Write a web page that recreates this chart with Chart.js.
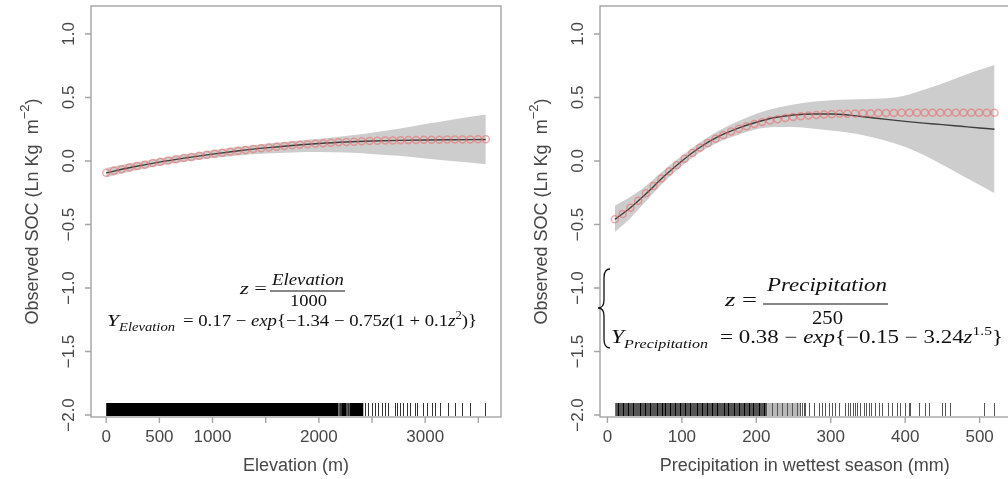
<!DOCTYPE html>
<html>
<head>
<meta charset="utf-8">
<script src="https://cdn.jsdelivr.net/npm/chart.js@4.4.0/dist/chart.umd.min.js"></script>
<style>
  html, body { margin: 0; padding: 0; background: #fff; width: 1008px; height: 479px; overflow: hidden; }
  canvas { position: absolute; top: 0; }
  #elev { left: 0; }
  #prec { left: 520px; }
</style>
</head>
<body>
<canvas id="elev" width="520" height="479"></canvas>
<canvas id="prec" width="540" height="479"></canvas>
<script>
// ---- axis ticks ----
const yTicks = [-2.0, -1.5, -1.0, -0.5, 0.0, 0.5, 1.0];
const elevTicks = [0, 500, 1000, 1500, 2000, 2500, 3000, 3500];
const elevTickLabels = ['0', '500', '1000', '', '2000', '', '3000', ''];
const precTicks = [0, 100, 200, 300, 400, 500];
const precTickLabels = ['0', '100', '200', '300', '400', '500'];

// ---- elevation panel ----
// fitted model evaluated at sample elevations (open circles)
const elevPts = [0, 73, 146, 219, 291, 364, 437, 510, 583, 656, 729, 801, 874, 947, 1020, 1093, 1166, 1239, 1311, 1384,
  1457, 1530, 1603, 1676, 1749, 1821, 1894, 1967, 2040, 2113, 2186, 2259, 2331, 2404, 2477, 2550, 2623, 2696, 2769, 2841,
  2914, 2987, 3060, 3133, 3206, 3279, 3351, 3424, 3497, 3570];
const elevModel = [-0.092, -0.078, -0.065, -0.052, -0.040, -0.029, -0.017, -0.007, 0.003, 0.013, 0.023, 0.032, 0.041, 0.049,
  0.057, 0.065, 0.073, 0.080, 0.087, 0.094, 0.100, 0.106, 0.112, 0.118, 0.123, 0.128, 0.132, 0.136, 0.140, 0.144, 0.147,
  0.150, 0.152, 0.155, 0.157, 0.159, 0.161, 0.162, 0.163, 0.164, 0.165, 0.166, 0.167, 0.167, 0.168, 0.168, 0.169, 0.169,
  0.170, 0.170];
// smooth fit with confidence band
const elevFitX = [0, 250, 500, 750, 1000, 1250, 1500, 1750, 2000, 2250, 2500, 2750, 3000, 3250, 3570];
const elevFit = [-0.094, -0.048, -0.009, 0.024, 0.054, 0.080, 0.103, 0.122, 0.137, 0.149, 0.157, 0.162, 0.165, 0.167, 0.169];
const elevUpper = [-0.055, -0.015, 0.020, 0.053, 0.085, 0.112, 0.135, 0.156, 0.175, 0.196, 0.222, 0.253, 0.290, 0.325, 0.365];
const elevLower = [-0.130, -0.080, -0.038, -0.005, 0.023, 0.043, 0.058, 0.067, 0.070, 0.066, 0.055, 0.040, 0.020, 0.000, -0.025];
// rug of observed elevations: solid runs, thinner runs and single ticks
const elevRugRuns = [[0, 2184], [2215, 2262], [2293, 2418]];
const elevRugHaze = [[2184, 2215], [2262, 2293]];
const elevRug = [2196, 2206, 2277, 2434, 2466, 2497, 2528, 2560, 2591, 2622, 2653, 2716, 2732, 2763, 2794, 2826, 2857, 2904,
  2920, 2982, 3014, 3061, 3092, 3139, 3217, 3280, 3343, 3421, 3562];

// ---- precipitation panel ----
const precPts = [10, 20.4, 30.8, 41.2, 51.6, 62, 72.4, 82.9, 93.3, 103.7, 114.1, 124.5, 134.9, 145.3, 155.7, 166.1, 176.5,
  186.9, 197.3, 207.8, 218.2, 228.6, 239, 249.4, 259.8, 270.2, 280.6, 291, 301.4, 311.8, 322.2, 332.7, 343.1, 353.5, 363.9,
  374.3, 384.7, 395.1, 405.5, 415.9, 426.3, 436.7, 447.1, 457.6, 468, 478.4, 488.8, 499.2, 509.6, 520];
const precModel = [-0.459, -0.418, -0.368, -0.313, -0.255, -0.197, -0.139, -0.084, -0.031, 0.018, 0.063, 0.104, 0.142, 0.175,
  0.205, 0.231, 0.254, 0.274, 0.291, 0.306, 0.319, 0.329, 0.338, 0.346, 0.352, 0.357, 0.362, 0.365, 0.368, 0.371, 0.372,
  0.374, 0.375, 0.376, 0.377, 0.378, 0.378, 0.379, 0.379, 0.379, 0.379, 0.380, 0.380, 0.380, 0.380, 0.380, 0.380, 0.380,
  0.380, 0.380];
const precFitX = [10, 30, 50, 75, 100, 125, 150, 175, 200, 225, 250, 275, 300, 325, 350, 375, 400, 425, 450, 475, 500, 520];
const precFit = [-0.460, -0.372, -0.268, -0.127, 0.000, 0.110, 0.195, 0.257, 0.305, 0.342, 0.362, 0.370, 0.370, 0.361, 0.344,
  0.327, 0.312, 0.298, 0.286, 0.273, 0.260, 0.250];
const precUpper = [-0.352, -0.285, -0.205, -0.078, 0.040, 0.150, 0.240, 0.310, 0.372, 0.415, 0.445, 0.466, 0.478, 0.484, 0.488,
  0.493, 0.515, 0.560, 0.610, 0.665, 0.718, 0.756];
const precLower = [-0.560, -0.455, -0.330, -0.172, -0.040, 0.070, 0.150, 0.205, 0.250, 0.268, 0.267, 0.256, 0.240, 0.222, 0.195,
  0.158, 0.110, 0.047, -0.030, -0.110, -0.190, -0.254];
const precRugRuns = [[10.4, 214.6]];
const precRugHaze = [[214.6, 259]];
const precRugDense = [14.8, 21.5, 28.2, 35, 44, 50.7, 57.4, 66.4, 73.1, 77.6, 84.3, 91, 97.7, 104.4, 111.2, 120.2, 126.9, 133.6,
  140.3, 147, 156, 162.6, 169.4, 176.1, 182.8, 189.5, 196.2, 203, 209.7];
const precRug = [221, 227.7, 234.4, 241.1, 247.8, 254.6, 259, 261.3, 264.4, 265.7, 270.2, 276.9, 283.6, 288.1, 292.6, 297, 301.6,
  306, 310.5, 319.5, 322.6, 326.2, 329.8, 332.9, 335.2, 339.7, 344.1, 347.3, 350.8, 354, 359.8, 364.3, 368.8, 376.3, 382.3,
  389, 393.4, 400.1, 404.6, 406.9, 418, 427, 431.5, 449.5, 453.9, 460.6, 506.3, 518.8];

const pairs = (xs, ys) => xs.map((x, i) => ({ x: x, y: ys[i] }));
const MINUS = '\u2212';
const fmt = v => v.toFixed(1).replace('-', MINUS);

const SANS = '"Liberation Sans", Arial, sans-serif';
const SERIF = '"Liberation Serif", "Times New Roman", serif';
const AXIS_GREY = '#a4a4a4';
const TEXT_GREY = '#474747';

// draw a run of mixed upright/italic/sub/superscript math text squeezed to [x0, x1]
function drawMath(ctx, parts, x0, x1, base, size) {
  const fontFor = p => (p.i ? 'italic ' : '') + ((p.sub || p.sup) ? size * 0.68 : size) + 'px ' + SERIF;
  let total = 0;
  const widths = parts.map(p => { ctx.font = fontFor(p); const w = ctx.measureText(p.t).width; total += w; return w; });
  const sx = (x1 - x0) / total;
  ctx.save();
  ctx.translate(x0, base);
  ctx.scale(sx, 1);
  ctx.fillStyle = '#111';
  ctx.textAlign = 'left';
  ctx.textBaseline = 'alphabetic';
  let x = 0;
  parts.forEach((p, k) => {
    ctx.font = fontFor(p);
    const dy = p.sub ? size * 0.28 : (p.sup ? -size * 0.42 : 0);
    ctx.fillText(p.t, x, dy);
    x += widths[k];
  });
  ctx.restore();
}

function fractionBar(ctx, x0, x1, y) {
  ctx.save();
  ctx.strokeStyle = '#111';
  ctx.lineWidth = 1.1;
  ctx.beginPath();
  ctx.moveTo(x0, y); ctx.lineTo(x1, y);
  ctx.stroke();
  ctx.restore();
}

// frame, axes, rug and labels for one panel
function panelDecor(opts) {
  return {
    id: 'panelDecor',
    afterDraw(chart) {
      const ctx = chart.ctx;
      const a = chart.chartArea;
      const xs = chart.scales.x, ys = chart.scales.y;
      ctx.save();

      // rug along the bottom of the plot region
      const rugTop = a.bottom - 14, rugH = 13;
      const runs = (list, color) => {
        ctx.fillStyle = color;
        list.forEach(r => {
          const p0 = xs.getPixelForValue(r[0]), p1 = xs.getPixelForValue(r[1]);
          ctx.fillRect(p0, rugTop, p1 - p0, rugH);
        });
      };
      runs(opts.rugRuns, opts.rugRunColor);
      if (opts.rugHaze) runs(opts.rugHaze, opts.rugHazeColor);
      const ticks = (vals, color, w) => {
        ctx.strokeStyle = color; ctx.lineWidth = w;
        ctx.beginPath();
        vals.forEach(v => {
          const p = Math.round(xs.getPixelForValue(v)) + 0.5;
          ctx.moveTo(p, rugTop); ctx.lineTo(p, rugTop + rugH);
        });
        ctx.stroke();
      };
      if (opts.rugDense) ticks(opts.rugDense, '#000', 1);
      ticks(opts.rug, opts.rugTickColor, 1);

      // frame
      ctx.strokeStyle = AXIS_GREY;
      ctx.lineWidth = 1.4;
      ctx.strokeRect(a.left, a.top, a.right - a.left, a.bottom - a.top);

      // y axis
      ctx.fillStyle = TEXT_GREY;
      ctx.font = '17px ' + SANS;
      ctx.textAlign = 'center';
      ctx.textBaseline = 'middle';
      ctx.beginPath();
      yTicks.forEach(v => {
        const y = ys.getPixelForValue(v);
        ctx.moveTo(a.left - 6, y); ctx.lineTo(a.left, y);
      });
      ctx.stroke();
      yTicks.forEach(v => {
        const y = ys.getPixelForValue(v);
        ctx.save();
        ctx.translate(a.left - 23, y);
        ctx.rotate(-Math.PI / 2);
        ctx.fillText(fmt(v), 0, 1);
        ctx.restore();
      });

      // y title with superscript exponent
      ctx.save();
      ctx.translate(a.left - 58, (a.top + a.bottom) / 2);
      ctx.rotate(-Math.PI / 2);
      const t1 = 'Observed SOC (Ln Kg  m', t2 = MINUS + '2', t3 = ')';
      ctx.font = '18px ' + SANS; const w1 = ctx.measureText(t1).width, w3 = ctx.measureText(t3).width;
      ctx.font = '13px ' + SANS; const w2 = ctx.measureText(t2).width;
      let sx = -(w1 + w2 + w3) / 2;
      ctx.textAlign = 'left';
      ctx.font = '18px ' + SANS; ctx.fillText(t1, sx, 0);
      ctx.font = '13px ' + SANS; ctx.fillText(t2, sx + w1, -8);
      ctx.font = '18px ' + SANS; ctx.fillText(t3, sx + w1 + w2, 0);
      ctx.restore();

      // x axis
      ctx.beginPath();
      opts.xTicks.forEach(v => {
        const x = xs.getPixelForValue(v);
        ctx.moveTo(x, a.bottom); ctx.lineTo(x, a.bottom + 6);
      });
      ctx.stroke();
      ctx.font = '17px ' + SANS;
      ctx.textAlign = 'center';
      opts.xTicks.forEach((v, k) => {
        if (opts.xLabels[k]) ctx.fillText(opts.xLabels[k], xs.getPixelForValue(v), a.bottom + 20);
      });
      ctx.font = '18px ' + SANS;
      ctx.fillText(opts.xTitle, (a.left + a.right) / 2, a.bottom + 49);

      ctx.restore();
      opts.formula(ctx, a);
    }
  };
}

function panelConfig(xMin, xMax, pad, band, fit, model, decor) {
  return {
    type: 'line',
    data: {
      datasets: [
        { data: band[0], fill: '+1', backgroundColor: '#cdcdcd', borderWidth: 0, pointRadius: 0,
          cubicInterpolationMode: 'monotone', order: 3 },
        { data: band[1], fill: false, borderWidth: 0, pointRadius: 0,
          cubicInterpolationMode: 'monotone', order: 3 },
        { data: fit, fill: false, borderColor: '#3e3e3e', borderWidth: 1.4, pointRadius: 0,
          cubicInterpolationMode: 'monotone', order: 2 },
        { data: model, showLine: false, pointRadius: 3.5, pointBorderWidth: 1.5,
          pointBorderColor: 'rgba(236, 100, 100, 0.55)', pointBackgroundColor: 'rgba(0,0,0,0)', order: 1 }
      ]
    },
    options: {
      responsive: false,
      animation: false,
      devicePixelRatio: 1,
      events: [],
      layout: { padding: pad },
      plugins: { legend: { display: false }, tooltip: { enabled: false } },
      scales: {
        x: { type: 'linear', min: xMin, max: xMax, display: false },
        y: { type: 'linear', min: -2.016, max: 1.22, display: false }
      }
    },
    plugins: [decor]
  };
}

// Elevation panel
new Chart(document.getElementById('elev'), panelConfig(
  -143, 3713, { left: 91, top: 6, right: 19, bottom: 62 },
  [pairs(elevFitX, elevUpper), pairs(elevFitX, elevLower)],
  pairs(elevFitX, elevFit), pairs(elevPts, elevModel),
  panelDecor({
    xTicks: elevTicks, xLabels: elevTickLabels, xTitle: 'Elevation (m)',
    rugRuns: elevRugRuns, rugRunColor: '#000', rugHaze: elevRugHaze, rugHazeColor: '#5a5a5a',
    rug: elevRug, rugTickColor: '#333',
    formula(ctx, a) {
      const L = a.left;
      drawMath(ctx, [{ t: 'z', i: 1 }, { t: ' =' }], L + 149, L + 176, 294, 17);
      drawMath(ctx, [{ t: 'Elevation', i: 1 }], L + 181, L + 253, 285, 17);
      fractionBar(ctx, L + 179, L + 254, 291);
      drawMath(ctx, [{ t: '1000' }], L + 199, L + 236, 306, 17);
      drawMath(ctx, [{ t: 'Y', i: 1 }, { t: 'Elevation', i: 1, sub: 1 }], L + 16, L + 84, 326, 17);
      drawMath(ctx, [{ t: '= 0.17 ' + MINUS + ' ' }, { t: 'exp', i: 1 }, { t: '{' + MINUS + '1.34 ' + MINUS + ' 0.75' },
        { t: 'z', i: 1 }, { t: '(1 + 0.1' }, { t: 'z', i: 1 }, { t: '2', sup: 1 }, { t: ')}' }],
        L + 92, L + 386, 326, 17);
    }
  })
));

// Precipitation panel
new Chart(document.getElementById('prec'), panelConfig(
  -10, 540, { left: 80, top: 6, right: 50.6, bottom: 62 },
  [pairs(precFitX, precUpper), pairs(precFitX, precLower)],
  pairs(precFitX, precFit), pairs(precPts, precModel),
  panelDecor({
    xTicks: precTicks, xLabels: precTickLabels, xTitle: 'Precipitation in wettest season (mm)',
    rugRuns: precRugRuns, rugRunColor: '#555', rugHaze: precRugHaze, rugHazeColor: '#b8b8b8',
    rugDense: precRugDense, rug: precRug, rugTickColor: '#555',
    formula(ctx, a) {
      const L = a.left;
      // left brace grouping the two lines
      ctx.save();
      ctx.strokeStyle = '#111';
      ctx.lineWidth = 1.3;
      ctx.beginPath();
      ctx.moveTo(L + 10, 269);
      ctx.quadraticCurveTo(L + 4, 269, L + 4, 278);
      ctx.lineTo(L + 4, 300);
      ctx.quadraticCurveTo(L + 4, 308, L - 2, 308);
      ctx.quadraticCurveTo(L + 4, 308, L + 4, 316);
      ctx.lineTo(L + 4, 339);
      ctx.quadraticCurveTo(L + 4, 348, L + 10, 348);
      ctx.stroke();
      ctx.restore();
      drawMath(ctx, [{ t: 'z', i: 1 }, { t: ' =' }], L + 125, L + 157, 306, 18);
      drawMath(ctx, [{ t: 'Precipitation', i: 1 }], L + 167, L + 287, 291, 18);
      fractionBar(ctx, L + 163, L + 288, 304);
      drawMath(ctx, [{ t: '250' }], L + 212, L + 243, 324, 18);
      drawMath(ctx, [{ t: 'Y', i: 1 }, { t: 'Precipitation', i: 1, sub: 1 }], L + 11, L + 108, 343, 18);
      drawMath(ctx, [{ t: '= 0.38 ' + MINUS + ' ' }, { t: 'exp', i: 1 }, { t: '{' + MINUS + '0.15 ' + MINUS + ' 3.24' },
        { t: 'z', i: 1 }, { t: '1.5', sup: 1 }, { t: '}' }],
        L + 120, L + 403, 343, 18);
    }
  })
));
</script>
</body>
</html>
